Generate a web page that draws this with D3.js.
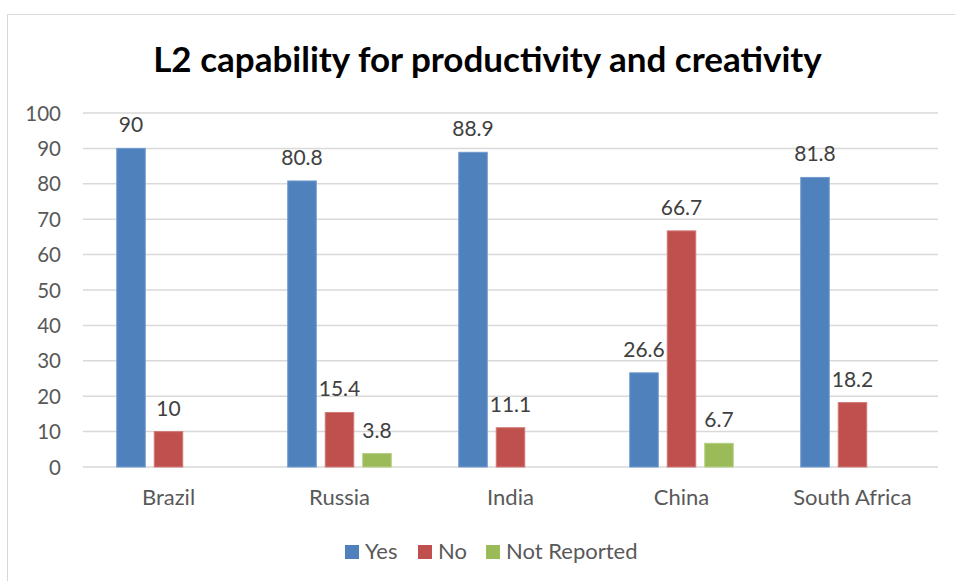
<!DOCTYPE html>
<html><head><meta charset="utf-8">
<script src="https://cdn.jsdelivr.net/npm/d3@7"></script>
<style>body{margin:0;background:#fff}svg{display:block}text{font-family:Lato,"Open Sans",sans-serif}</style>
</head><body>
<svg id="c" width="955" height="581"></svg>
<script>
const categories = ["Brazil","Russia","India","China","South Africa"];
const seriesNames = ["Yes","No","Not Reported"];
const yesValues = [90,80.8,88.9,26.6,81.8];
const noValues = [10,15.4,11.1,66.7,18.2];
const notReportedValues = [null,3.8,null,6.7,null];
const yTicks = [0,10,20,30,40,50,60,70,80,90,100];
const colors = ["#4F81BD","#C0504D","#9BBB59"];
const strokes = ["#7199cc","#d17b78","#b4cf82"];

const series = [yesValues,noValues,notReportedValues];
const svg = d3.select("#c");
svg.append("rect").attr("x",7.5).attr("y",14.5).attr("width",960).attr("height",600)
  .attr("fill","#fff").attr("stroke","#d9d9d9").attr("stroke-width",1);

const L=83,R=938,T=113,B=467;
const y = d3.scaleLinear().domain([0,100]).range([B,T]);
const x0 = d3.scaleBand().domain(categories).range([L,R]).padding(0);
const x1 = d3.scaleBand().domain(seriesNames).range([0,x0.bandwidth()]).paddingInner(0.213).paddingOuter(0.887);

svg.append("text").attr("x",487.5).attr("y",72).attr("text-anchor","middle")
  .attr("font-size",35).attr("font-weight","bold").attr("fill","#000")
  .text("L2 capability for productivity and creativity");

const g = svg.append("g");
g.selectAll("line.grid").data(yTicks).join("line").attr("class","grid")
  .attr("x1",L).attr("x2",R).attr("y1",d=>y(d)).attr("y2",d=>y(d))
  .attr("stroke","#d9d9d9").attr("stroke-width",1.5);

const yAxis = d3.axisLeft(y).tickValues(yTicks).tickSize(0).tickPadding(0);
const ya = svg.append("g").attr("transform",`translate(61,0)`).call(yAxis);
ya.select(".domain").remove();
ya.selectAll("text").attr("font-size",20.5).attr("fill","#595959").attr("font-family","Lato,sans-serif").attr("dy","0.35em");

const xAxis = d3.axisBottom(x0).tickSize(0).tickPadding(0);
const xa = svg.append("g").attr("transform",`translate(0,${B})`).call(xAxis);
xa.select(".domain").remove();
xa.selectAll("text").attr("font-size",22).attr("fill","#595959").attr("font-family","Lato,sans-serif").attr("dy",null).attr("y",38);

series.forEach((vals,si)=>{
  const data = categories.map((c,i)=>({c,v:vals[i]})).filter(d=>d.v!=null);
  g.selectAll(null).data(data).join("rect")
    .attr("x",d=>x0(d.c)+x1(seriesNames[si])+0.5)
    .attr("width",x1.bandwidth()-1)
    .attr("y",d=>y(d.v)).attr("height",d=>B-y(d.v))
    .attr("fill",colors[si]).attr("stroke",strokes[si]).attr("stroke-width",1);
  g.selectAll(null).data(data).join("text")
    .attr("x",d=>x0(d.c)+x1(seriesNames[si])+x1.bandwidth()/2)
    .attr("y",d=>y(d.v)-16).attr("text-anchor","middle")
    .attr("font-size",21).attr("fill","#404040").text(d=>d.v);
});

const legendX=[345,418,486];
const lg = svg.append("g");
seriesNames.forEach((n,i)=>{
  lg.append("rect").attr("x",legendX[i]).attr("y",545).attr("width",14).attr("height",14).attr("fill",colors[i]);
  lg.append("text").attr("x",legendX[i]+20).attr("y",559).attr("font-size",22).attr("fill","#595959").text(n);
});
</script>
</body></html>
